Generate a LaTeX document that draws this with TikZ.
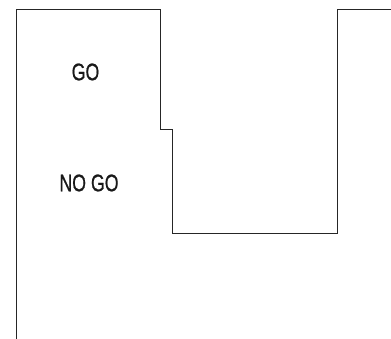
\documentclass[tikz,border=0pt]{standalone}
\usepackage{fontspec}
\setmainfont{Liberation Sans}
\newfontfamily\lblfont{Liberation Sans}[FakeBold=0.9]
\begin{document}
\begin{tikzpicture}[x=1pt,y=-1pt,
  outline/.style={line width=0.9pt,draw=black!85},
  lbl/.style={font=\lblfont\fontsize{24}{26}\selectfont,inner sep=0pt,text=black!90}]
\useasboundingbox (0,0) rectangle (391,339);
\draw[outline] (16,339) -- (16,9) -- (160,9) -- (160,129) -- (172,129) -- (172,233) -- (337,233) -- (337,9) -- (391,9);
\node[lbl] (go) at (85.5,72) {\scalebox{0.74}[1]{GO}};
\node[lbl] (nogo) at (89,183) {\scalebox{0.74}[1]{NO GO}};
\end{tikzpicture}
\end{document}
